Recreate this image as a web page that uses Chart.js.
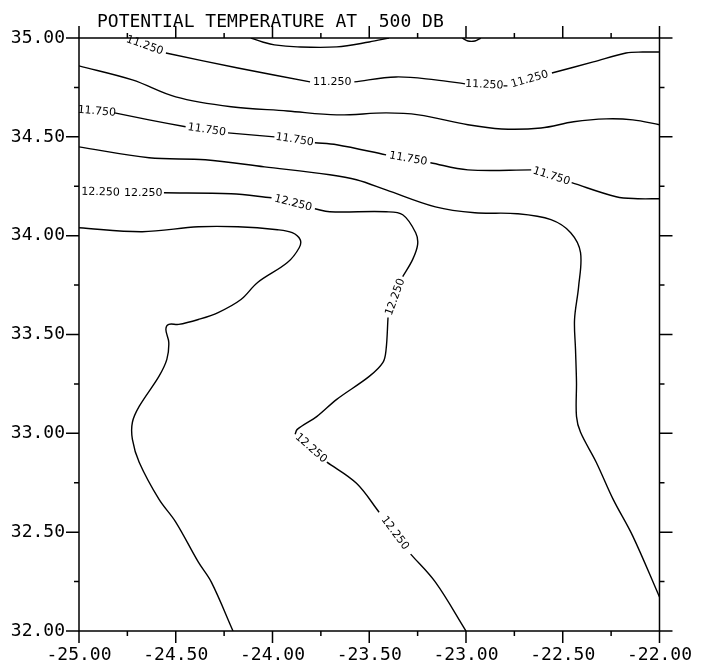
<!DOCTYPE html>
<html>
<head>
<meta charset="UTF-8">
<title>Potential temperature at 500 db</title>
<script src="https://cdn.jsdelivr.net/npm/chart.js"></script>
<style>
    body { margin: 0; background: #fff; }
    canvas { display: block; }
</style>
</head>
<body>
<canvas id="chart" width="706" height="670"></canvas>
<script>
    // axis ranges (longitude on x, latitude on y)
    const xRange = [-25, -22];
    const yRange = [32, 35];
    const tickStep = 0.25;
    const titleText = 'POTENTIAL TEMPERATURE AT  500 DB';

    // contour lines as [lon, lat]; null = gap where a label sits
    const contour1125 = [
        [-24.77, 35.00], null, [-24.551, 34.924], [-24.179, 34.848], [-23.806, 34.778], null,
        [-23.577, 34.778], [-23.362, 34.803], [-23.158, 34.788], [-23.005, 34.768], null,
        [-22.806, 34.758], [-22.786, 34.758], null,
        [-22.556, 34.823], [-22.342, 34.879], [-22.173, 34.924], [-22.087, 34.929], [-22.0, 34.929]
    ];
    const labels1125 = ['11.250', '11.250', '11.250', '11.250'];

    const contourTopA = [
        [-24.112, 35.0], [-24.051, 34.980], [-23.990, 34.965], [-23.872, 34.955],
        [-23.668, 34.955], [-23.5, 34.980], [-23.398, 35.0]
    ];
    const contourTopB = [[-23.020, 35.0], [-22.990, 34.985], [-22.954, 34.985], [-22.923, 35.0]];

    const contour1150 = [
        [-25.0, 34.859], [-24.724, 34.788], [-24.5, 34.702], [-24.214, 34.652], [-23.923, 34.631],
        [-23.668, 34.611], [-23.413, 34.621], [-23.245, 34.611], [-22.990, 34.561], [-22.816, 34.540],
        [-22.612, 34.545], [-22.444, 34.576], [-22.276, 34.591], [-22.138, 34.586], [-22.0, 34.561]
    ];

    const contour1175 = [
        [-25.0, 34.636], null, [-24.816, 34.621], [-24.638, 34.586], [-24.449, 34.551], null,
        [-24.230, 34.520], [-23.990, 34.500], null,
        [-23.781, 34.470], [-23.668, 34.460], [-23.413, 34.409], null,
        [-23.184, 34.369], [-22.990, 34.333], [-22.663, 34.333], null,
        [-22.454, 34.268], [-22.224, 34.197], [-22.112, 34.187], [-22.0, 34.187]
    ];
    const labels1175 = ['11.750', '11.750', '11.750', '11.750', '11.750'];

    const contour1200 = [
        [-25.0, 34.449], [-24.638, 34.394], [-24.347, 34.384], [-24.041, 34.348], [-23.704, 34.308],
        [-23.566, 34.283], [-23.413, 34.232], [-23.158, 34.146], [-22.954, 34.116], [-22.735, 34.111],
        [-22.561, 34.081], [-22.459, 34.015], [-22.408, 33.914], [-22.418, 33.742], [-22.439, 33.576],
        [-22.434, 33.424], [-22.429, 33.258], [-22.429, 33.086], [-22.408, 33.005], [-22.327, 32.854],
        [-22.240, 32.667], [-22.138, 32.480], [-22.0, 32.172]
    ];

    const contour1225 = [
        [-25.0, 34.222], null, [-24.776, 34.217], [-24.776, 34.217], null,
        [-24.561, 34.217], [-24.214, 34.212], [-24.005, 34.192], null,
        [-23.781, 34.136], [-23.704, 34.121], [-23.413, 34.121], [-23.327, 34.106], [-23.260, 34.015],
        [-23.250, 33.955], [-23.276, 33.879], [-23.327, 33.793], null,
        [-23.403, 33.586], [-23.413, 33.424], [-23.429, 33.359], [-23.5, 33.288], [-23.668, 33.172],
        [-23.770, 33.086], [-23.872, 33.020], [-23.883, 32.995], null,
        [-23.719, 32.854], [-23.566, 32.747], [-23.449, 32.601], null,
        [-23.286, 32.389], [-23.158, 32.247], [-23.0, 32.0]
    ];
    const labels1225 = ['12.250', '12.250', '12.250', '12.250', '12.250', '12.250'];

    const contour1250 = [
        [-25.0, 34.040], [-24.673, 34.020], [-24.383, 34.045], [-24.179, 34.045], [-23.974, 34.030],
        [-23.898, 34.015], [-23.857, 33.980], [-23.862, 33.939], [-23.923, 33.864], [-24.077, 33.763],
        [-24.163, 33.677], [-24.281, 33.611], [-24.383, 33.576], [-24.485, 33.551], [-24.536, 33.551],
        [-24.551, 33.525], [-24.536, 33.460], [-24.546, 33.374], [-24.587, 33.288], [-24.689, 33.136],
        [-24.724, 33.056], [-24.724, 32.970], [-24.689, 32.854], [-24.587, 32.667], [-24.5, 32.551],
        [-24.383, 32.348], [-24.316, 32.247], [-24.204, 32.0]
    ];

    const contours = [
        { pts: contour1125, labels: labels1125 },
        { pts: contourTopA, labels: [] },
        { pts: contourTopB, labels: [] },
        { pts: contour1150, labels: [] },
        { pts: contour1175, labels: labels1175 },
        { pts: contour1200, labels: [] },
        { pts: contour1225, labels: labels1225 },
        { pts: contour1250, labels: [] }
    ];

    const MONO = '"DejaVu Sans Mono", monospace';
    const isMajor = v => Math.abs(v * 2 - Math.round(v * 2)) < 1e-6;

    // ticks on all four sides, long at every 0.5, short in between, plus the frame
    const framePlugin = {
        id: 'frame',
        afterDraw(chart) {
            const ctx = chart.ctx;
            const a = chart.chartArea;
            const xs = chart.scales.x, ys = chart.scales.y;
            ctx.save();
            ctx.strokeStyle = '#000';
            ctx.lineWidth = 1.5;
            ctx.strokeRect(a.left, a.top, a.right - a.left, a.bottom - a.top);
            ctx.beginPath();
            xs.ticks.forEach(t => {
                const px = xs.getPixelForValue(t.value);
                const len = isMajor(t.value) ? 12 : 5;
                ctx.moveTo(px, a.bottom); ctx.lineTo(px, a.bottom + len);
                ctx.moveTo(px, a.top); ctx.lineTo(px, a.top - len);
            });
            ys.ticks.forEach(t => {
                const py = ys.getPixelForValue(t.value);
                const len = isMajor(t.value) ? 13 : 5;
                ctx.moveTo(a.left, py); ctx.lineTo(a.left - len, py);
                ctx.moveTo(a.right, py); ctx.lineTo(a.right + len, py);
            });
            ctx.stroke();

            // title
            ctx.fillStyle = '#000';
            ctx.font = '18px ' + MONO;
            ctx.textBaseline = 'alphabetic';
            ctx.textAlign = 'left';
            ctx.fillText(titleText, a.left + 18, 27);
            ctx.restore();
        }
    };

    // contour labels placed in the gaps of each line, rotated along the line
    const contourLabelPlugin = {
        id: 'contourLabels',
        afterDatasetsDraw(chart) {
            const ctx = chart.ctx;
            const xs = chart.scales.x, ys = chart.scales.y;
            ctx.save();
            ctx.fillStyle = '#000';
            ctx.font = '11px "DejaVu Sans", sans-serif';
            ctx.textAlign = 'center';
            ctx.textBaseline = 'middle';
            contours.forEach(c => {
                let k = 0;
                c.pts.forEach((p, i) => {
                    if (p !== null || k >= c.labels.length) return;
                    const a = c.pts[i - 1], b = c.pts[i + 1];
                    let x1 = xs.getPixelForValue(a[0]), y1 = ys.getPixelForValue(a[1]);
                    let x2 = xs.getPixelForValue(b[0]), y2 = ys.getPixelForValue(b[1]);
                    if (x2 < x1) { [x1, x2] = [x2, x1]; [y1, y2] = [y2, y1]; }
                    const ang = Math.atan2(y2 - y1, x2 - x1);
                    ctx.save();
                    ctx.translate((x1 + x2) / 2, (y1 + y2) / 2);
                    ctx.rotate(ang);
                    ctx.fillText(c.labels[k], 0, 0);
                    ctx.restore();
                    k++;
                });
            });
            ctx.restore();
        }
    };

    const datasets = contours.map(c => ({
        data: c.pts.map(p => p ? { x: p[0], y: p[1] } : { x: NaN, y: NaN }),
        borderColor: '#000',
        borderWidth: 1.4,
        pointRadius: 0,
        tension: 0.35,
        spanGaps: false,
        showLine: true,
        fill: false
    }));

    const tickLabel = v => isMajor(v) ? v.toFixed(2) : '';

    new Chart(document.getElementById('chart').getContext('2d'), {
        type: 'scatter',
        data: { datasets: datasets },
        options: {
            responsive: false,
            animation: false,
            layout: { padding: { top: 38, right: 38, left: 0, bottom: 0 } },
            plugins: {
                legend: { display: false },
                tooltip: { enabled: false },
                title: { display: false }
            },
            scales: {
                x: {
                    type: 'linear',
                    position: 'bottom',
                    min: xRange[0],
                    max: xRange[1],
                    grid: { display: false, drawTicks: false },
                    border: { display: false },
                    ticks: {
                        stepSize: tickStep,
                        autoSkip: false,
                        maxRotation: 0,
                        padding: 14,
                        color: '#000',
                        font: { family: MONO, size: 18 },
                        callback: tickLabel
                    },
                    afterFit: s => { s.height = 39; }
                },
                y: {
                    type: 'linear',
                    position: 'left',
                    min: yRange[0],
                    max: yRange[1],
                    grid: { display: false, drawTicks: false },
                    border: { display: false },
                    ticks: {
                        stepSize: tickStep,
                        autoSkip: false,
                        padding: 14,
                        color: '#000',
                        font: { family: MONO, size: 18 },
                        callback: tickLabel
                    },
                    afterFit: s => { s.width = 79; }
                }
            }
        },
        plugins: [framePlugin, contourLabelPlugin]
    });
</script>
</body>
</html>
